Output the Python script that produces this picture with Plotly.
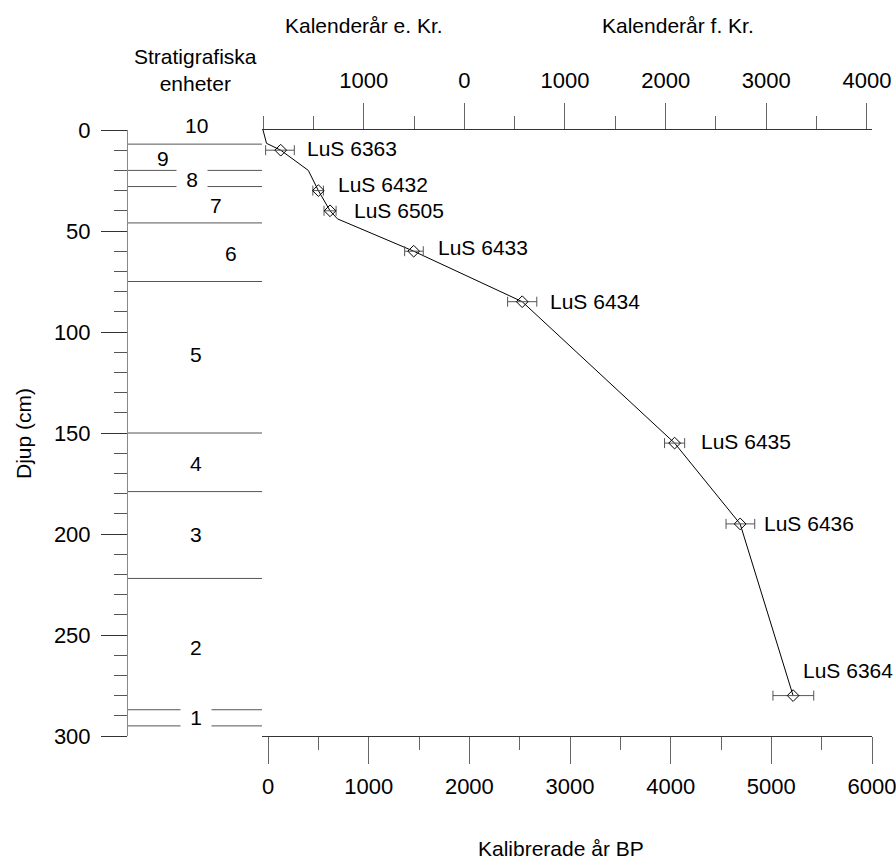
import plotly.graph_objects as go

# ---------------- data ----------------
sample_ids = ["LuS 6363", "LuS 6432", "LuS 6505", "LuS 6433", "LuS 6434",
              "LuS 6435", "LuS 6436", "LuS 6364"]
sample_age_bp = [126, 500, 616, 1447, 2525, 4039, 4690, 5216]
sample_depth = [10, 30, 40, 60, 85, 155, 195, 280]
err_plus = [135, 50, 60, 95, 145, 100, 145, 205]
err_minus = [150, 55, 60, 90, 145, 100, 140, 200]

model_age_bp = [-50, -15, 126, 400, 500, 616, 690, 1447, 2525, 4039, 4690, 5216]
model_depth = [0, 6.6, 10, 20, 30, 40, 44, 60, 85, 155, 195, 280]

unit_boundaries = [7, 20, 28, 46, 75, 150, 179, 222, 287, 295]
unit_labels = ["10", "9", "8", "7", "6", "5", "4", "3", "2", "1"]
unit_label_depth = [0, 14, 24.5, 37.5, 61, 111, 165, 200, 256, 291]

cal_tick_years = [1000, 0, -1000, -2000, -3000, -4000]   # AD positive, BC negative
cal_tick_text = ["1000", "0", "1000", "2000", "3000", "4000"]
cal_minor_years = [2000, 1500, 500, -500, -1500, -2500, -3500]

# ---------------- layout helpers ----------------
W, H = 896, 864
ML, MR, MT, MB = 128, 24, 130, 128
PW, PH = W - ML - MR, H - MT - MB
COL_RIGHT = 262
col_frac = (COL_RIGHT - ML) / PW


def fx(px):
    return (px - ML) / PW


def fy(py):
    return (H - MB - py) / PH


def bp(ad_year):
    return 1950 - ad_year


FONT = "Liberation Sans, Arial, sans-serif"
TICKFONT = dict(family=FONT, size=22, color="black")
LABFONT = dict(family=FONT, size=21, color="black")

fig = go.Figure()

# age-depth model line
fig.add_trace(go.Scatter(
    x=model_age_bp, y=model_depth, mode="lines",
    line=dict(color="black", width=1), xaxis="x", yaxis="y",
    cliponaxis=False, showlegend=False, hoverinfo="skip"))

# dated samples
fig.add_trace(go.Scatter(
    x=sample_age_bp, y=sample_depth, mode="markers",
    marker=dict(symbol="diamond-open", size=9, color="black", line=dict(width=1, color="black")),
    error_x=dict(type="data", symmetric=False, array=err_plus, arrayminus=err_minus,
                 color="#555555", thickness=1, width=5),
    xaxis="x", yaxis="y", cliponaxis=False, showlegend=False))

# dummy traces so that the helper axes exist
fig.add_trace(go.Scatter(x=[0, 1], y=[0, 0], mode="markers", marker=dict(opacity=0),
                         xaxis="x2", yaxis="y", showlegend=False, hoverinfo="skip"))
fig.add_trace(go.Scatter(x=[0], y=[0], mode="markers", marker=dict(opacity=0),
                         xaxis="x3", yaxis="y", showlegend=False, hoverinfo="skip"))

shapes = []
for d in unit_boundaries:
    shapes.append(dict(type="line", xref="x2", yref="y", x0=0, x1=1, y0=d, y1=d,
                       line=dict(color="#555555", width=1)))

annotations = []
unit_label_x = [0.51, 0.26, 0.48, 0.66, 0.77, 0.51, 0.51, 0.51, 0.51, 0.51]
for lab, d, xx in zip(unit_labels, unit_label_depth, unit_label_x):
    extra = {}
    if lab in ("8", "1"):
        extra = dict(bgcolor="white", width=30, borderpad=0)
    if lab == "10":
        extra = dict(yshift=5)
    annotations.append(dict(xref="x2", yref="y", x=xx, y=d, text=lab, showarrow=False,
                            font=LABFONT, xanchor="center", yanchor="middle", **extra))

label_dx = [24, 18, 22, 22, 26, 24, 22, 8]
label_dy = [2, 6, 0, 4, 0, 2, 0, 25]
for sid, a, d, dx, dy in zip(sample_ids, sample_age_bp, sample_depth, label_dx, label_dy):
    annotations.append(dict(xref="x", yref="y", x=a, y=d, text=sid, showarrow=False,
                            xanchor="left", yanchor="middle", xshift=dx, yshift=dy,
                            font=LABFONT))


def title(px, py, text, angle=0):
    return dict(xref="paper", yref="paper", x=fx(px), y=fy(py), text=text, textangle=angle,
                xanchor="center", yanchor="middle", showarrow=False, font=LABFONT)


annotations += [
    title(23, 433, "Djup (cm)", -90),
    title(195, 70, "Stratigrafiska<br>enheter"),
    title(364, 26, "Kalenderår e. Kr."),
    title(678, 26, "Kalenderår f. Kr."),
    title(561, 848, "Kalibrerade år BP"),
]

XR = [-60, 6000]

fig.update_layout(
    width=W, height=H, margin=dict(l=ML, r=MR, t=MT, b=MB, pad=0, autoexpand=False),
    paper_bgcolor="white", plot_bgcolor="white",
    font=dict(family=FONT, color="black"),
    showlegend=False,
    xaxis=dict(domain=[col_frac, 1], anchor="y", side="bottom", range=XR, automargin=False,
               showgrid=False, zeroline=False, showline=True, linecolor="#333333", linewidth=1,
               ticks="outside", ticklen=27, tickcolor="#666666", tickwidth=1,
               tickmode="linear", tick0=0, dtick=1000, tickfont=TICKFONT,
               ticklabelstandoff=4, ticklabeloverflow="allow",
               minor=dict(ticks="outside", ticklen=13, tick0=0, dtick=500, tickcolor="#666666", showgrid=False)),
    xaxis2=dict(domain=[0, col_frac], anchor="y", range=[0, 1], visible=False, automargin=False),
    xaxis3=dict(overlaying="x", anchor="y", side="top", range=XR, automargin=False,
                showgrid=False, zeroline=False, showline=True, linecolor="#333333", linewidth=1,
                ticks="outside", ticklen=26, tickcolor="#666666", tickwidth=1,
                tickmode="array", tickvals=[bp(v) for v in cal_tick_years], ticktext=cal_tick_text,
                tickfont=TICKFONT, ticklabelstandoff=6, ticklabeloverflow="allow",
                minor=dict(ticks="outside", ticklen=13, tickmode="array",
                           tickvals=[bp(v) for v in cal_minor_years], tickcolor="#666666", showgrid=False)),
    yaxis=dict(domain=[0, 1], anchor="x2", side="left", range=[300, 0], automargin=False,
               showgrid=False, zeroline=False, showline=True, linecolor="#888888", linewidth=1,
               ticks="outside", ticklen=26, tickcolor="#333333", tickwidth=1,
               tickmode="linear", tick0=0, dtick=50, tickfont=TICKFONT, ticklabelstandoff=6,
               ticklabeloverflow="allow",
               minor=dict(ticks="outside", ticklen=13, tick0=0, dtick=10, tickcolor="#555555", showgrid=False)),
    yaxis2=dict(overlaying="y", anchor="x2", side="right", range=[300, 0], automargin=False,
                showgrid=False, zeroline=False, showline=True, linecolor="#888888", linewidth=1,
                ticks="outside", ticklen=27, tickcolor="#333333", tickwidth=1,
                tickmode="linear", tick0=0, dtick=50, showticklabels=False,
                minor=dict(ticks="outside", ticklen=14, tick0=0, dtick=10, tickcolor="#555555", showgrid=False)),
    shapes=shapes,
    annotations=annotations,
)

fig.write_html("out.html")
